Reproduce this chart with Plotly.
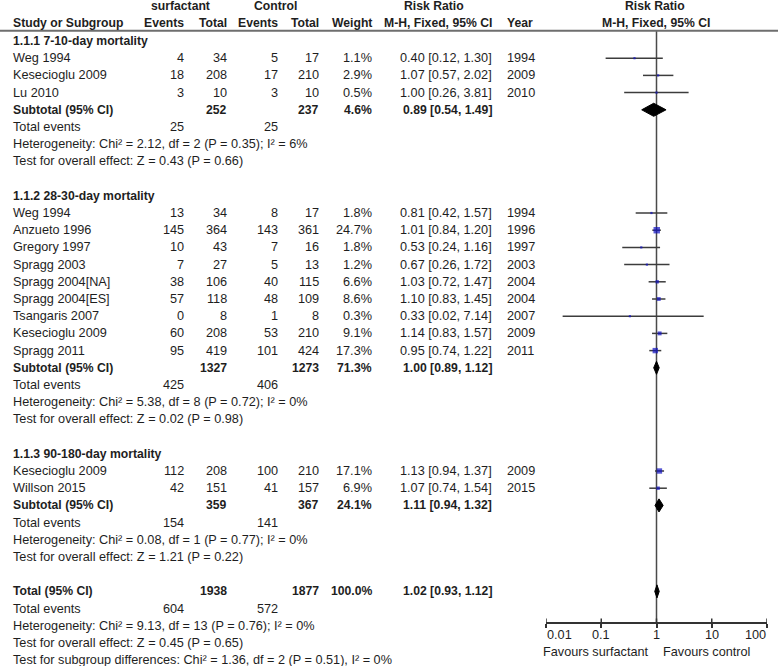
import plotly.graph_objects as go
import math

FONT = "Liberation Sans, Arial, sans-serif"
TXT = "#1e1e1e"
FS = 12.7     # regular text
FSB = 12.2    # bold text

# ---------------- data ----------------
section_titles = ["1.1.1 7-10-day mortality", "1.1.2 28-30-day mortality", "1.1.3 90-180-day mortality"]
study_names = [
    ["Weg 1994", "Kesecioglu 2009", "Lu 2010"],
    ["Weg 1994", "Anzueto 1996", "Gregory 1997", "Spragg 2003", "Spragg 2004[NA]",
     "Spragg 2004[ES]", "Tsangaris 2007", "Kesecioglu 2009", "Spragg 2011"],
    ["Kesecioglu 2009", "Willson 2015"],
]
surf_events = [[4, 18, 3], [13, 145, 10, 7, 38, 57, 0, 60, 95], [112, 42]]
surf_total = [[34, 208, 10], [34, 364, 43, 27, 106, 118, 8, 208, 419], [208, 151]]
ctrl_events = [[5, 17, 3], [8, 143, 7, 5, 40, 48, 1, 53, 101], [100, 41]]
ctrl_total = [[17, 210, 10], [17, 361, 16, 13, 115, 109, 8, 210, 424], [210, 157]]
weights = [[1.1, 2.9, 0.5], [1.8, 24.7, 1.8, 1.2, 6.6, 8.6, 0.3, 9.1, 17.3], [17.1, 6.9]]
rr = [[0.40, 1.07, 1.00], [0.81, 1.01, 0.53, 0.67, 1.03, 1.10, 0.33, 1.14, 0.95], [1.13, 1.07]]
rr_lo = [[0.12, 0.57, 0.26], [0.42, 0.84, 0.24, 0.26, 0.72, 0.83, 0.02, 0.83, 0.74], [0.94, 0.74]]
rr_hi = [[1.30, 2.02, 3.81], [1.57, 1.20, 1.16, 1.72, 1.47, 1.45, 7.14, 1.57, 1.22], [1.37, 1.54]]
years = [[1994, 2009, 2010], [1994, 1996, 1997, 2003, 2004, 2004, 2007, 2009, 2011], [2009, 2015]]

sub_surf_total = [252, 1327, 359]
sub_ctrl_total = [237, 1273, 367]
sub_weight = [4.6, 71.3, 24.1]
sub_rr = [0.89, 1.00, 1.11]
sub_lo = [0.54, 0.89, 0.94]
sub_hi = [1.49, 1.12, 1.32]
sub_events_surf = [25, 425, 154]
sub_events_ctrl = [25, 406, 141]
sub_het = ["Heterogeneity: Chi² = 2.12, df = 2 (P = 0.35); I² = 6%",
           "Heterogeneity: Chi² = 5.38, df = 8 (P = 0.72); I² = 0%",
           "Heterogeneity: Chi² = 0.08, df = 1 (P = 0.77); I² = 0%"]
sub_test = ["Test for overall effect: Z = 0.43 (P = 0.66)",
            "Test for overall effect: Z = 0.02 (P = 0.98)",
            "Test for overall effect: Z = 1.21 (P = 0.22)"]

tot_surf_total = 1938
tot_ctrl_total = 1877
tot_weight = 100.0
tot_rr, tot_lo, tot_hi = 1.02, 0.93, 1.12
tot_events_surf, tot_events_ctrl = 604, 572
tot_het = "Heterogeneity: Chi² = 9.13, df = 13 (P = 0.76); I² = 0%"
tot_test = "Test for overall effect: Z = 0.45 (P = 0.65)"
tot_subgroup = "Test for subgroup differences: Chi² = 1.36, df = 2 (P = 0.51), I² = 0%"

axis_ticks = [0.01, 0.1, 1, 10, 100]
axis_ticktext = ["0.01", "0.1", "1", "10", "100"]

# ---------------- layout geometry (pixels) ----------------
W, H = 778, 666
ROW0_PX, ROW_STEP = 41.0, 17.2
def row_of(px):
    return (px - ROW0_PX) / ROW_STEP

X_NAME, X_EV1, X_TOT1, X_EV2, X_TOT2, X_W, X_CI, X_YEAR = 12, 185, 228, 279, 320, 373, 493, 506
FOREST_L, FOREST_R = 546, 767
AXIS_PX = 623
TOPLINE_PX = 30.7

annotations = []
def txt(x, row, s, anchor="left", bold=False, xref="x2"):
    size = FS
    if bold:
        s = "<b>" + s + "</b>"
        size = FSB
    annotations.append(dict(x=x, y=row, xref=xref, yref="y", text=s, showarrow=False,
                            xanchor=anchor, yanchor="middle", borderpad=0,
                            font=dict(family=FONT, size=size, color=TXT)))

def ci_text(v, l, h):
    return "%.2f [%.2f, %.2f]" % (v, l, h)

# header
txt(180, row_of(6), "surfactant", "center", True)
txt(275, row_of(6), "Control", "center", True)
txt(434, row_of(6), "Risk Ratio", "center", True)
txt(655, row_of(6), "Risk Ratio", "center", True)
hr = row_of(23)
txt(X_NAME, hr, "Study or Subgroup", "left", True)
txt(X_EV1, hr, "Events", "right", True)
txt(X_TOT1, hr, "Total", "right", True)
txt(X_EV2, hr, "Events", "right", True)
txt(X_TOT2, hr, "Total", "right", True)
txt(X_W, hr, "Weight", "right", True)
txt(X_CI, hr, "M-H, Fixed, 95% CI", "right", True)
txt(X_YEAR, hr, "Year", "left", True)
txt(656, hr, "M-H, Fixed, 95% CI", "center", True)

ci_x, ci_y = [], []
sq_x, sq_y, sq_s = [], [], []
diamonds = []

row = 0
for s in range(len(section_titles)):
    txt(X_NAME, row, section_titles[s], "left", True)
    row += 1
    for i in range(len(study_names[s])):
        txt(X_NAME, row, study_names[s][i])
        txt(X_EV1, row, str(surf_events[s][i]), "right")
        txt(X_TOT1, row, str(surf_total[s][i]), "right")
        txt(X_EV2, row, str(ctrl_events[s][i]), "right")
        txt(X_TOT2, row, str(ctrl_total[s][i]), "right")
        txt(X_W, row, "%.1f%%" % weights[s][i], "right")
        txt(X_CI, row, ci_text(rr[s][i], rr_lo[s][i], rr_hi[s][i]), "right")
        txt(X_YEAR, row, str(years[s][i]), "left")
        ci_x += [rr_lo[s][i], rr_hi[s][i], None]
        ci_y += [row, row, None]
        sq_x.append(rr[s][i]); sq_y.append(row)
        sq_s.append(max(2.2, 1.3 * math.sqrt(weights[s][i])))
        row += 1
    txt(X_NAME, row, "Subtotal (95% CI)", "left", True)
    txt(X_TOT1, row, str(sub_surf_total[s]), "right", True)
    txt(X_TOT2, row, str(sub_ctrl_total[s]), "right", True)
    txt(X_W, row, "%.1f%%" % sub_weight[s], "right", True)
    txt(X_CI, row, ci_text(sub_rr[s], sub_lo[s], sub_hi[s]), "right", True)
    diamonds.append((sub_rr[s], sub_lo[s], sub_hi[s], row))
    row += 1
    txt(X_NAME, row, "Total events")
    txt(X_EV1, row, str(sub_events_surf[s]), "right")
    txt(X_EV2, row, str(sub_events_ctrl[s]), "right")
    row += 1
    txt(X_NAME, row, sub_het[s]); row += 1
    txt(X_NAME, row, sub_test[s]); row += 1
    row += 1

txt(X_NAME, row, "Total (95% CI)", "left", True)
txt(X_TOT1, row, str(tot_surf_total), "right", True)
txt(X_TOT2, row, str(tot_ctrl_total), "right", True)
txt(X_W, row, "%.1f%%" % tot_weight, "right", True)
txt(X_CI, row, ci_text(tot_rr, tot_lo, tot_hi), "right", True)
diamonds.append((tot_rr, tot_lo, tot_hi, row))
row += 1
txt(X_NAME, row, "Total events")
txt(X_EV1, row, str(tot_events_surf), "right")
txt(X_EV2, row, str(tot_events_ctrl), "right")
row += 1
txt(X_NAME, row, tot_het); row += 1
txt(X_NAME, row, tot_test); row += 1
txt(X_NAME, row, tot_subgroup); row += 1

# forest axis tick labels (end labels kept inside the axis span, as in the reference)
tick_row = row_of(635)
for k, (t, lab) in enumerate(zip(axis_ticks, axis_ticktext)):
    anchor = "left" if k == 0 else ("right" if k == len(axis_ticks) - 1 else "center")
    txt(math.log10(t), tick_row, lab, anchor, False, xref="x")

# favours labels
fav_row = row_of(652)
txt(650, fav_row, "Favours surfactant", "right")
txt(662, fav_row, "Favours control", "left")

fig = go.Figure()
# invisible trace to register x2 subplot
fig.add_trace(go.Scatter(x=[0, W], y=[0, 0], xaxis="x2", yaxis="y", mode="markers",
                         marker=dict(opacity=0), hoverinfo="skip", showlegend=False))
# CI lines
fig.add_trace(go.Scatter(x=ci_x, y=ci_y, mode="lines", xaxis="x", yaxis="y",
                         line=dict(color="#3c3c3c", width=1.5), hoverinfo="skip", showlegend=False))
# squares
fig.add_trace(go.Scatter(x=sq_x, y=sq_y, mode="markers", xaxis="x", yaxis="y",
                         marker=dict(symbol="square", size=sq_s, color="#1010c0", line=dict(width=0)),
                         showlegend=False))
# diamonds
DH = 0.38
for est, l, h, r in diamonds:
    fig.add_trace(go.Scatter(x=[l, est, h, est, l], y=[r, r - DH, r, r + DH, r], mode="lines",
                             fill="toself", fillcolor="black", line=dict(color="black", width=1),
                             xaxis="x", yaxis="y", hoverinfo="skip", showlegend=False))

y_top = row_of(0)
y_bot = row_of(H)
axis_pos = 1 - AXIS_PX / H

shapes = [
    # header rule
    dict(type="line", xref="x2", yref="y", x0=0, x1=W, y0=row_of(TOPLINE_PX), y1=row_of(TOPLINE_PX),
         line=dict(color="#6e6e6e", width=2)),
    # line of no effect
    dict(type="line", xref="x", yref="y", x0=1, x1=1, y0=row_of(TOPLINE_PX), y1=row_of(AXIS_PX),
         line=dict(color="#4a4a4a", width=1.5), layer="below"),
]
for t in axis_ticks:
    shapes.append(dict(type="line", xref="x", yref="y", x0=t, x1=t, y0=row_of(AXIS_PX),
                       y1=row_of(AXIS_PX - 4.5), line=dict(color="#333", width=1.5)))

fig.update_layout(
    width=W, height=H, margin=dict(l=0, r=0, t=0, b=0),
    paper_bgcolor="white", plot_bgcolor="rgba(0,0,0,0)",
    font=dict(family=FONT, size=FS, color=TXT),
    xaxis=dict(type="log", range=[-2, 2], domain=[FOREST_L / W, FOREST_R / W],
               anchor="free", position=axis_pos, showline=True, linecolor="#333", linewidth=1.5,
               ticks="outside", ticklen=4.5, tickwidth=1.5, tickcolor="#333",
               tickvals=axis_ticks, showticklabels=False, showgrid=False, zeroline=False,
               fixedrange=True),
    xaxis2=dict(range=[0, W], domain=[0, 1], anchor="y", visible=False, fixedrange=True),
    yaxis=dict(range=[y_bot, y_top], domain=[0, 1], visible=False, fixedrange=True),
    annotations=annotations,
    shapes=shapes,
)

fig.write_html("out.html", config={"displayModeBar": False},
               post_script="document.body.style.margin='0px';document.body.style.padding='0px';")
